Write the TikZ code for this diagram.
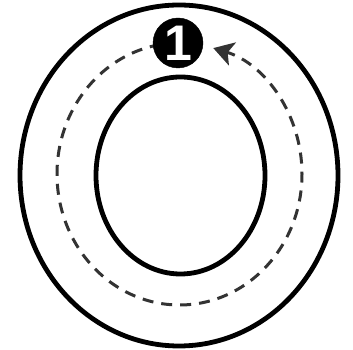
\documentclass[tikz,border=0pt]{standalone}
\usepackage{fontspec}
\setmainfont{Liberation Sans}
\usetikzlibrary{arrows.meta}
\definecolor{dashgray}{HTML}{333333}
\tikzset{
  ring/.style={draw=black, line width=4.8pt},
  dashpath/.style={draw=dashgray, line width=3pt, dash pattern=on 11pt off 8pt,
    -{Stealth[length=20pt,width=24pt,inset=5pt,fill=dashgray]}},
  badge/.style={circle, fill=black, draw=black, minimum size=50pt, inner sep=0pt,
    text=white, font=\fontsize{50}{50}\selectfont\bfseries}
}
\begin{document}
\begin{tikzpicture}[x=1pt,y=1pt]
\useasboundingbox (0,0) rectangle (353,350);
\fill[white] (0,0) rectangle (353,350);
\draw[ring] (179,174.5) ellipse [x radius=159, y radius=170.5];
\draw[ring] (180.5,174.5) ellipse [x radius=84.5, y radius=98.5];
\coordinate (c) at (179.5,176);
\draw[dashpath] ([shift={(90:122.5 and 131)}]c) arc[start angle=90, end angle=434, x radius=122.5, y radius=131];
\node[badge] (one) at (178,307) {\raisebox{-1pt}{1}};
\end{tikzpicture}
\end{document}
